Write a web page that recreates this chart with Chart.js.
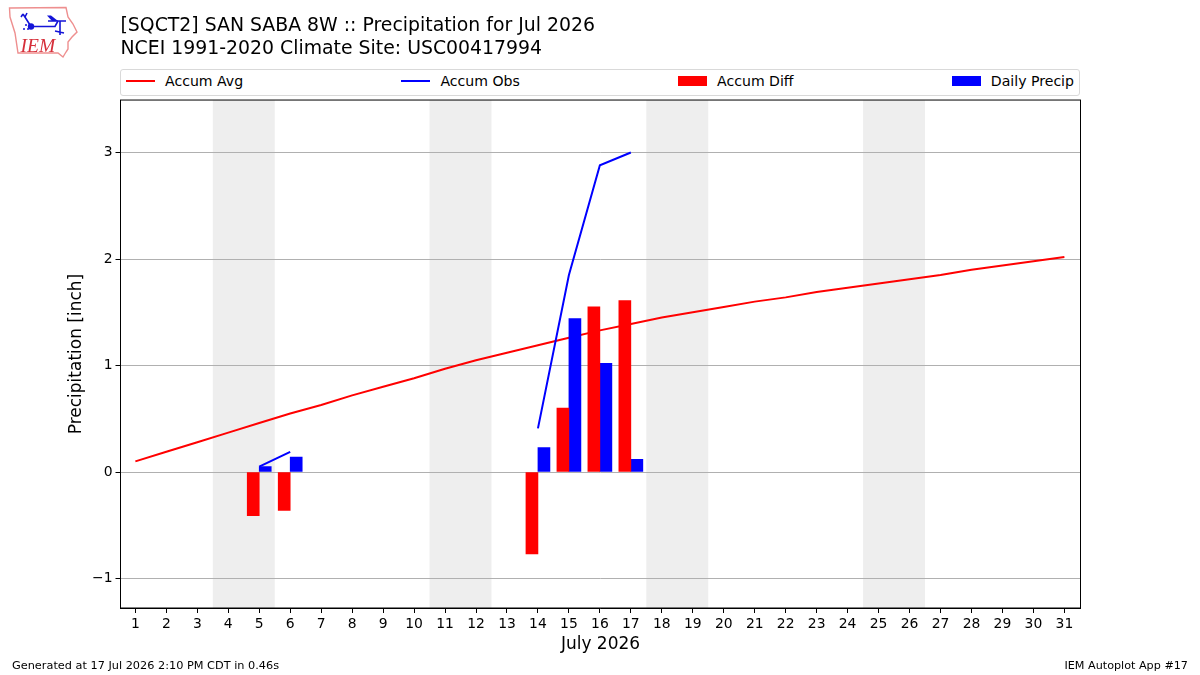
<!DOCTYPE html>
<html>
<head>
<meta charset="utf-8">
<title>Precipitation for Jul 2026</title>
<script src="https://cdn.jsdelivr.net/npm/chart.js@4"></script>
<style>
    html, body { margin: 0; padding: 0; background: #fff; }
    #wrap { position: relative; width: 1200px; height: 675px; overflow: hidden; font-family: "DejaVu Sans", sans-serif; }
    #logo { position: absolute; left: 0; top: 0; }
    #legendBox {
        position: absolute; left: 120px; top: 69px; width: 948px; height: 22px;
        padding: 0 5px 3px 5px; border: 1px solid #d9d9d9; border-radius: 3px;
        display: flex; justify-content: space-between; align-items: center;
        font-size: 14.1px; color: #000; background: #fff;
    }
    .legend-item { display: flex; align-items: center; white-space: nowrap; }
    .legend-key { width: 29px; margin-right: 10px; }
    .foot { position: absolute; top: 659px; font-size: 11.2px; color: #000; white-space: nowrap; }
</style>
</head>
<body>
<div id="wrap">
    <canvas id="precipChart" width="1200" height="675"></canvas>

    <svg id="logo" width="90" height="64" viewBox="0 0 90 64">
        <path d="M9.5 8 L66 7.5 L68 17 L73 24 L77 32 L72 37 L68 42 L68 49 L66 52 L63 57 L58 53 L18 53 L15 33 L10 17 Z"
              fill="none" stroke="#ee8f8f" stroke-width="1.4"/>
        <g stroke="#1414d8" fill="none" stroke-width="1.6">
            <path d="M31 26.5 L55 26.5 L58 21 M31 26.5 L23 14 M23 14 L21 17 M25 17 L27 13"/>
            <path d="M48 21 L66 21 M60 21 L60 35 M55 31 L64 33" />
        </g>
        <path d="M47 15.5 L51 15.5 L58 21 L52 21 Z" fill="#1414d8"/>
        <circle cx="31" cy="26.5" r="3.2" fill="#1414d8"/>
        <circle cx="24" cy="29" r="1" fill="#1414d8"/>
        <circle cx="26" cy="25" r="1" fill="#1414d8"/>
        <circle cx="28" cy="29" r="1" fill="#1414d8"/>
        <text x="20.5" y="51.5" font-family="Liberation Serif" font-style="italic" font-size="19.5" fill="#d62f3a">IEM</text>
    </svg>

    <div id="legendBox"></div>
    <div class="foot" style="left:12px;font-size:11.3px">Generated at 17 Jul 2026 2:10 PM CDT in 0.46s</div>
    <div class="foot" style="right:12px">IEM Autoplot App #17</div>
</div>

<script>
const days = [1, 2, 3, 4, 5, 6, 7, 8, 9, 10, 11, 12, 13, 14, 15, 16, 17, 18, 19, 20, 21, 22, 23, 24, 25, 26, 27, 28, 29, 30, 31];
const accumAvg = [0.10, 0.19, 0.28, 0.37, 0.46, 0.55, 0.63, 0.72, 0.80, 0.88, 0.97, 1.05, 1.12, 1.19, 1.26, 1.33, 1.39, 1.45, 1.50, 1.55, 1.60, 1.64, 1.69, 1.73, 1.77, 1.81, 1.85, 1.90, 1.94, 1.98, 2.02];
const accumObs = [null, null, null, null, 0.05, 0.19, null, null, null, null, null, null, null, 0.41, 1.85, 2.88, 3.00, null, null, null, null, null, null, null, null, null, null, null, null, null, null];
const accumDiff = [null, null, null, null, -0.41, -0.36, null, null, null, null, null, null, null, -0.77, 0.60, 1.55, 1.61, null, null, null, null, null, null, null, null, null, null, null, null, null, null];
const dailyPrecip = [null, null, null, null, 0.05, 0.14, null, null, null, null, null, null, null, 0.23, 1.44, 1.02, 0.12, null, null, null, null, null, null, null, null, null, null, null, null, null, null];
const yTicks = [-1, 0, 1, 2, 3];
const yTickLabels = ['\u22121', '0', '1', '2', '3'];
const weekendBands = [[3.5, 5.5], [10.5, 12.5], [17.5, 19.5], [24.5, 26.5]];
const titleLines = ['[SQCT2] SAN SABA 8W :: Precipitation for Jul 2026', 'NCEI 1991-2020 Climate Site: USC00417994'];

const FONT = '"DejaVu Sans", sans-serif';

// weekend shading goes under the grid, the frame goes over the bars
const weekendPlugin = {
    id: 'weekendBands',
    beforeDraw(chart) {
        const { ctx, chartArea, scales } = chart;
        ctx.save();
        ctx.fillStyle = '#eeeeee';
        weekendBands.forEach(b => {
            const x0 = scales.x.getPixelForValue(b[0]);
            const x1 = scales.x.getPixelForValue(b[1]);
            ctx.fillRect(x0, chartArea.top, x1 - x0, chartArea.bottom - chartArea.top);
        });
        ctx.restore();
    }
};
const framePlugin = {
    id: 'plotFrame',
    afterDatasetsDraw(chart) {
        const { ctx, chartArea } = chart;
        ctx.save();
        ctx.strokeStyle = '#000';
        ctx.lineWidth = 1;
        ctx.strokeRect(chartArea.left, chartArea.top, chartArea.right - chartArea.left, chartArea.bottom - chartArea.top);
        ctx.restore();
    }
};

const chart = new Chart(document.getElementById('precipChart'), {
    type: 'bar',
    data: {
        labels: days,
        datasets: [
            { type: 'line', label: 'Accum Avg', data: accumAvg, borderColor: '#ff0000', backgroundColor: '#ff0000', borderWidth: 2, pointRadius: 0, tension: 0, order: 4 },
            { type: 'line', label: 'Accum Obs', data: accumObs, borderColor: '#0000ff', backgroundColor: '#0000ff', borderWidth: 2, pointRadius: 0, tension: 0, spanGaps: false, order: 3 },
            { label: 'Accum Diff', data: accumDiff, backgroundColor: '#ff0000', barThickness: 12, order: 1 },
            { label: 'Daily Precip', data: dailyPrecip, backgroundColor: '#0000ff', barThickness: 12, order: 2 }
        ]
    },
    options: {
        responsive: false,
        animation: false,
        layout: { padding: { left: 60.5, right: 119.5, top: 0, bottom: 0 } },
        plugins: {
            legend: { display: false },
            tooltip: { enabled: false },
            title: {
                display: true,
                text: titleLines,
                align: 'start',
                fullSize: false,
                color: '#000',
                font: { family: FONT, size: 18.87, weight: 'normal', lineHeight: 1.22 },
                padding: { top: 15, bottom: 39 }
            }
        },
        scales: {
            x: {
                type: 'linear',
                offset: false,
                min: 0.52,
                max: 31.52,
                afterBuildTicks(axis) { axis.ticks = days.map(d => ({ value: d })); },
                afterFit(axis) { axis.height = 67; },
                grid: { offset: false, drawOnChartArea: false, tickLength: 5, tickColor: '#000' },
                border: { color: '#000' },
                ticks: { color: '#000', autoSkip: false, maxRotation: 0, padding: 3, font: { family: FONT, size: 13.9 } },
                title: { display: true, text: 'July 2026', color: '#000', font: { family: FONT, size: 17 }, padding: { top: 4, bottom: 20 } }
            },
            y: {
                min: -1.277,
                max: 3.493,
                afterBuildTicks(axis) { axis.ticks = yTicks.map(v => ({ value: v })); },
                afterFit(axis) { axis.width = 60; },
                grid: { color: '#b0b0b0', lineWidth: 1, tickLength: 5, tickColor: '#000' },
                border: { color: '#000' },
                ticks: {
                    color: '#000',
                    padding: 3,
                    font: { family: FONT, size: 13.9 },
                    callback: v => yTickLabels[yTicks.indexOf(v)]
                },
                title: { display: true, text: 'Precipitation [inch]', color: '#000', font: { family: FONT, size: 17 }, padding: { top: 6, bottom: 4 } }
            }
        }
    },
    plugins: [weekendPlugin, framePlugin]
});

// legend row is laid out with flexbox so the items spread over the full plot width
const legendBox = document.getElementById('legendBox');
chart.data.datasets.forEach(ds => {
    const item = document.createElement('div');
    item.className = 'legend-item';
    const key = document.createElement('span');
    key.className = 'legend-key';
    key.style.background = ds.backgroundColor;
    key.style.height = ds.type === 'line' ? '2px' : '10px';
    item.appendChild(key);
    item.appendChild(document.createTextNode(ds.label));
    legendBox.appendChild(item);
});
</script>
</body>
</html>
